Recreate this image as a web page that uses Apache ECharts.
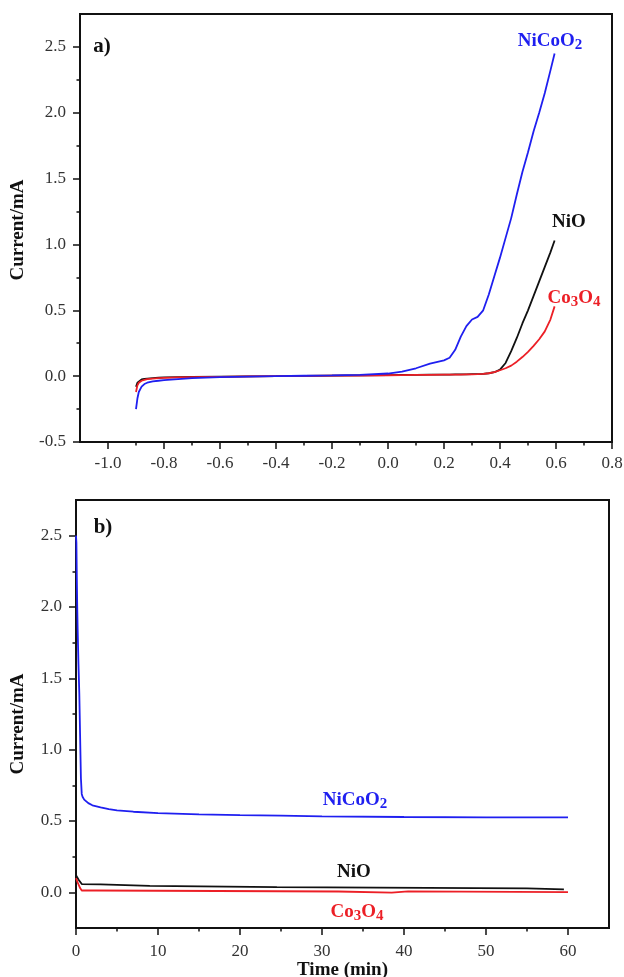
<!DOCTYPE html>
<html><head><meta charset="utf-8">
<script src="https://cdn.jsdelivr.net/npm/echarts@6/dist/echarts.min.js"></script>
<style>html,body{margin:0;padding:0;background:#fff}#c{width:624px;height:977px}</style>
</head><body><div id="c"></div>
<script>
// ---- Panel a) linear sweep voltammetry ----
const lsvPotential = [-0.9, -0.895, -0.89, -0.88, -0.87, -0.86, -0.84, -0.82, -0.8, -0.75, -0.7, -0.6, -0.5, -0.4, -0.3, -0.2, -0.1, 0, 0.05, 0.1, 0.15, 0.2, 0.22, 0.24, 0.26, 0.28, 0.3, 0.32, 0.34, 0.36, 0.38, 0.4, 0.42, 0.44, 0.46, 0.48, 0.5, 0.52, 0.54, 0.56, 0.58, 0.595];
const lsvNiCoO2 = [-0.25, -0.17, -0.12, -0.08, -0.06, -0.05, -0.04, -0.035, -0.03, -0.022, -0.015, -0.007, -0.003, 0, 0.003, 0.006, 0.01, 0.02, 0.035, 0.06, 0.095, 0.12, 0.14, 0.2, 0.3, 0.38, 0.43, 0.45, 0.5, 0.62, 0.76, 0.9, 1.05, 1.2, 1.38, 1.55, 1.7, 1.86, 2.0, 2.15, 2.32, 2.45];
const lsvNiO = [-0.08, -0.05, -0.035, -0.025, -0.02, -0.018, -0.015, -0.012, -0.01, -0.008, -0.006, -0.003, -0.001, 0, 0.002, 0.004, 0.006, 0.008, 0.009, 0.01, 0.011, 0.012, 0.012, 0.013, 0.013, 0.014, 0.015, 0.016, 0.018, 0.022, 0.03, 0.05, 0.1, 0.19, 0.29, 0.4, 0.5, 0.61, 0.72, 0.83, 0.94, 1.03];
const lsvCo3O4 = [-0.12, -0.07, -0.05, -0.035, -0.028, -0.022, -0.018, -0.015, -0.013, -0.01, -0.008, -0.005, -0.002, 0, 0.002, 0.004, 0.005, 0.007, 0.008, 0.009, 0.01, 0.011, 0.011, 0.012, 0.012, 0.013, 0.014, 0.015, 0.017, 0.022, 0.03, 0.045, 0.06, 0.08, 0.11, 0.145, 0.185, 0.23, 0.28, 0.34, 0.43, 0.53];

// ---- Panel b) chronoamperometry ----
const ctTimeNiCoO2 = [0, 0.05, 0.1, 0.15, 0.2, 0.3, 0.4, 0.5, 0.6, 0.7, 0.8, 1, 1.5, 2, 3, 4, 5, 7, 10, 15, 20, 25, 30, 40, 50, 60];
const ctNiCoO2 = [2.5, 2.45, 2.2, 2.0, 1.85, 1.6, 1.4, 1.1, 0.8, 0.69, 0.67, 0.65, 0.625, 0.61, 0.595, 0.583, 0.575, 0.565, 0.555, 0.547, 0.541, 0.537, 0.533, 0.528, 0.525, 0.525];
const ctTimeNiO = [0, 0.3, 0.7, 3, 3.1, 9, 9.1, 24.5, 24.6, 55, 55.2, 59.5];
const ctNiO = [0.12, 0.09, 0.058, 0.056, 0.045, 0.045, 0.036, 0.036, 0.028, 0.028, 0.021, 0.021];
const ctTimeCo3O4 = [0, 0.2, 0.5, 0.7, 2.5, 2.6, 32, 32.2, 38.5, 38.7, 40.5, 40.7, 60];
const ctCo3O4 = [0.1, 0.07, 0.03, 0.013, 0.013, 0.006, 0.006, -0.002, -0.002, 0.007, 0.007, 0.001, 0.001];

// ---- tick values ----
const lsvXTicks = [-1.0, -0.8, -0.6, -0.4, -0.2, 0.0, 0.2, 0.4, 0.6, 0.8];
const lsvXMinor = [-0.9, -0.7, -0.5, -0.3, -0.1, 0.1, 0.3, 0.5, 0.7];
const lsvYTicks = [-0.5, 0.0, 0.5, 1.0, 1.5, 2.0, 2.5];
const lsvYMinor = [-0.25, 0.25, 0.75, 1.25, 1.75, 2.25];
const ctXTicks = [0, 10, 20, 30, 40, 50, 60];
const ctXMinor = [5, 15, 25, 35, 45, 55];
const ctYTicks = [0.0, 0.5, 1.0, 1.5, 2.0, 2.5];
const ctYMinor = [0.25, 0.75, 1.25, 1.75, 2.25];

const FONT = '"Liberation Serif", "Times New Roman", serif';
const BLUE = '#1f1ff0', RED = '#ec1f26', BLACK = '#111';
const zip = (xs, ys) => xs.map((x, i) => [x, ys[i]]);

function mainAxis(grid, pos, min, max, ticks, fmt, margin, name, nameGap) {
  return {
    type: 'value', gridIndex: grid, position: pos, min, max,
    name: name || '', nameLocation: 'middle', nameGap: nameGap || 0,
    nameTextStyle: { fontFamily: FONT, fontWeight: 'bold', fontSize: 19, color: '#111' },
    axisLine: { show: true, onZero: false, lineStyle: { color: '#111', width: 2 } },
    axisTick: { show: true, inside: false, length: 7, customValues: ticks, lineStyle: { color: '#111', width: 1.5 } },
    axisLabel: { show: true, customValues: ticks, formatter: fmt, fontFamily: FONT, fontSize: 17, color: '#333', margin },
    splitLine: { show: false }
  };
}
function minorAxis(grid, pos, min, max, ticks) {
  return {
    type: 'value', gridIndex: grid, position: pos, min, max,
    axisLine: { show: false, onZero: false },
    axisTick: { show: true, inside: false, length: 3.5, customValues: ticks, lineStyle: { color: '#111', width: 1.5 } },
    axisLabel: { show: false },
    splitLine: { show: false }
  };
}
const f1 = v => v.toFixed(1);
const f0 = v => String(Math.round(v));

function line(name, data, color, xi, yi) {
  return {
    type: 'line', name, data, xAxisIndex: xi, yAxisIndex: yi,
    showSymbol: false, symbol: 'none', smooth: false, clip: true,
    lineStyle: { color, width: 1.8 }, itemStyle: { color }, z: 3
  };
}
function label(x, y, main, sub, main2, sub2, color) {
  const text = '{m|' + main + '}' + (sub ? '{s|' + sub + '}' : '') + (main2 ? '{m|' + main2 + '}' : '') + (sub2 ? '{s|' + sub2 + '}' : '');
  return {
    type: 'text', x, y, z: 10,
    style: {
      text, align: 'center', verticalAlign: 'middle',
      rich: {
        m: { fontFamily: FONT, fontWeight: 'bold', fontSize: 19, fill: color, color },
        s: { fontFamily: FONT, fontWeight: 'bold', fontSize: 15, fill: color, color, padding: [9, 0, 0, 0] }
      }
    }
  };
}
function yName(x, y) {
  return {
    type: 'text', x, y, rotation: Math.PI / 2, z: 10,
    style: { text: 'Current/mA', fontFamily: FONT, fontWeight: 'bold', fontSize: 19, fill: '#111', align: 'center', verticalAlign: 'middle' }
  };
}

const chart = echarts.init(document.getElementById('c'), null, { renderer: 'canvas' });
chart.setOption({
  animation: false,
  backgroundColor: '#fff',
  grid: [
    { left: 80, right: 12, top: 14, height: 428, show: true, borderColor: '#111', borderWidth: 2, backgroundColor: 'transparent', containLabel: false, outerBoundsMode: 'none' },
    { left: 76, right: 15, top: 500, height: 428, show: true, borderColor: '#111', borderWidth: 2, backgroundColor: 'transparent', containLabel: false, outerBoundsMode: 'none' }
  ],
  xAxis: [
    mainAxis(0, 'bottom', -1.1, 0.8, lsvXTicks, f1, 13),
    minorAxis(0, 'bottom', -1.1, 0.8, lsvXMinor),
    mainAxis(1, 'bottom', 0, 65, ctXTicks, f0, 15, 'Time (min)', 30),
    minorAxis(1, 'bottom', 0, 65, ctXMinor)
  ],
  yAxis: [
    mainAxis(0, 'left', -0.5, 2.75, lsvYTicks, f1, 14),
    minorAxis(0, 'left', -0.5, 2.75, lsvYMinor),
    mainAxis(1, 'left', -0.25, 2.75, ctYTicks, f1, 14),
    minorAxis(1, 'left', -0.25, 2.75, ctYMinor)
  ],
  series: [
    line('NiO', zip(lsvPotential, lsvNiO), BLACK, 0, 0),
    line('Co3O4', zip(lsvPotential, lsvCo3O4), RED, 0, 0),
    line('NiCoO2', zip(lsvPotential, lsvNiCoO2), BLUE, 0, 0),
    line('NiO', zip(ctTimeNiO, ctNiO), BLACK, 2, 2),
    line('Co3O4', zip(ctTimeCo3O4, ctCo3O4), RED, 2, 2),
    line('NiCoO2', zip(ctTimeNiCoO2, ctNiCoO2), BLUE, 2, 2)
  ],
  graphic: [
    yName(18, 230),
    yName(18, 724),
    { type: 'text', x: 102, y: 47, style: { text: 'a)', fontFamily: FONT, fontWeight: 'bold', fontSize: 21, fill: '#111', align: 'center', verticalAlign: 'middle' } },
    { type: 'text', x: 103, y: 528, style: { text: 'b)', fontFamily: FONT, fontWeight: 'bold', fontSize: 21, fill: '#111', align: 'center', verticalAlign: 'middle' } },
    label(550, 41, 'NiCoO', '2', '', '', BLUE),
    label(569, 222, 'NiO', '', '', '', BLACK),
    label(574, 298, 'Co', '3', 'O', '4', RED),
    label(355, 800, 'NiCoO', '2', '', '', BLUE),
    label(354, 872, 'NiO', '', '', '', BLACK),
    label(357, 912, 'Co', '3', 'O', '4', RED)
  ]
});
</script>
</body></html>
